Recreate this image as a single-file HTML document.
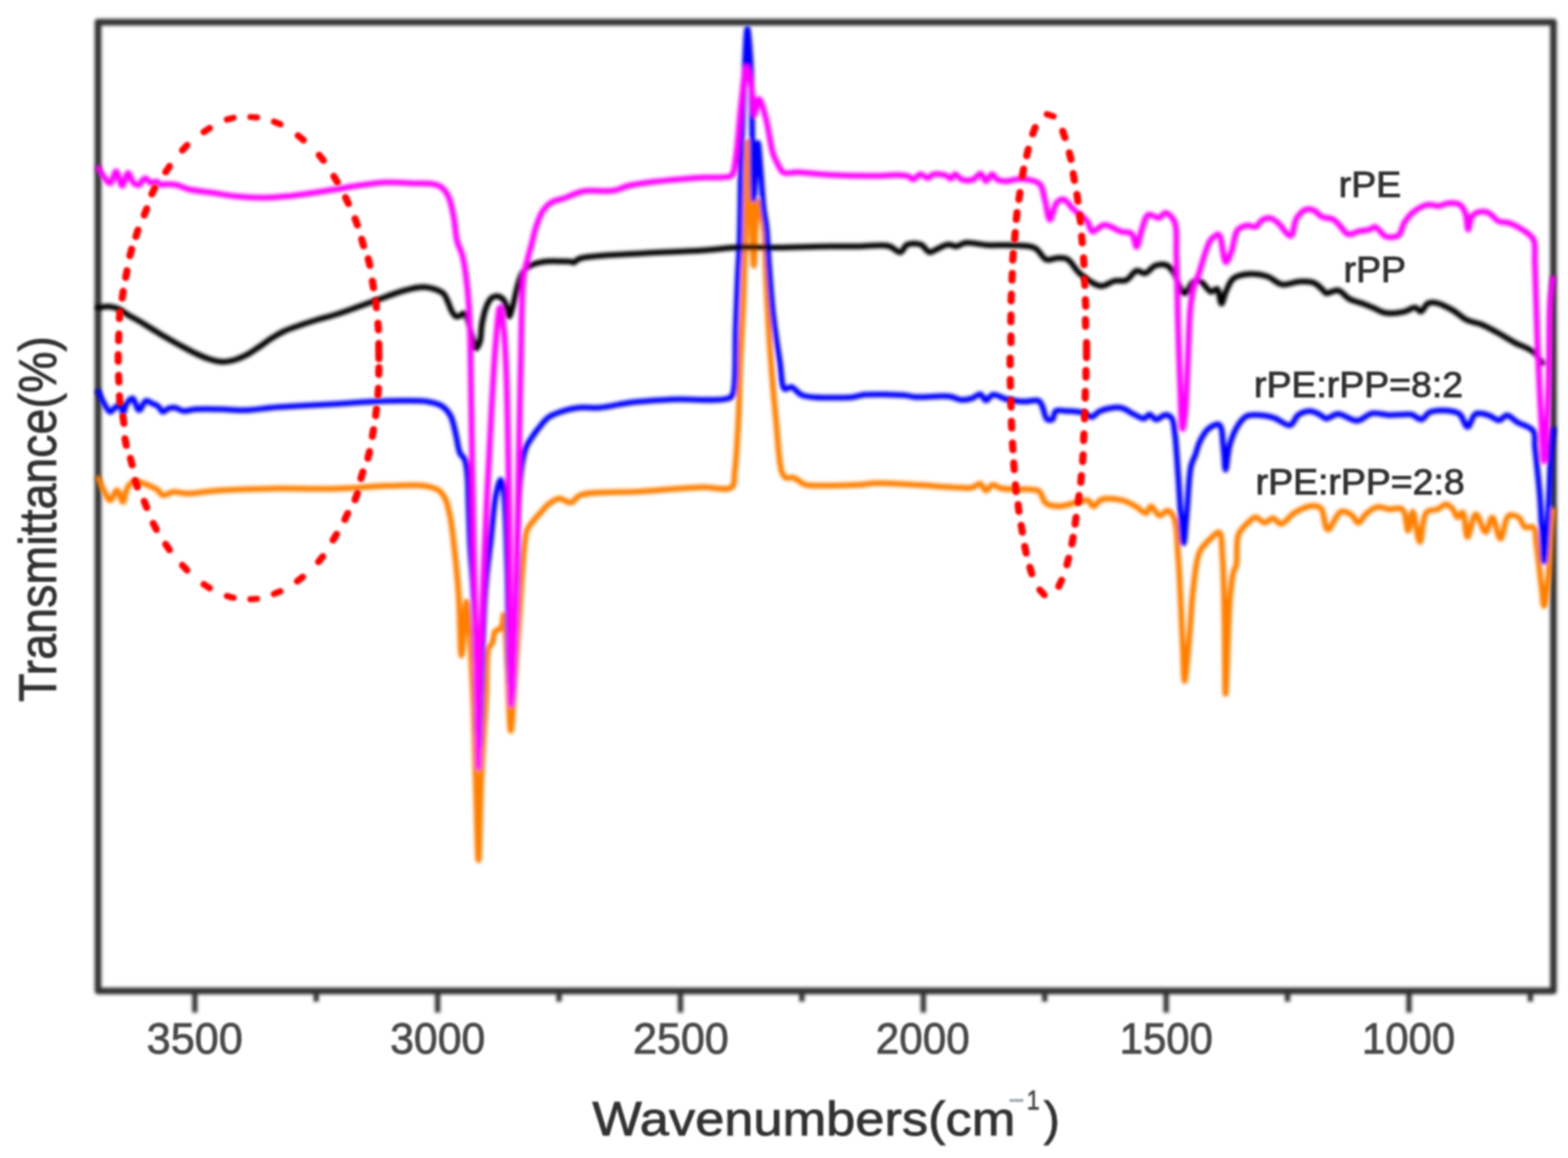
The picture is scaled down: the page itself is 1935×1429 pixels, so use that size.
<!DOCTYPE html>
<html><head><meta charset="utf-8"><title>FTIR spectra of rPE, rPP and blends</title>
<style>
html,body{margin:0;padding:0;background:#fff;}
body{width:1935px;height:1429px;overflow:hidden;}
svg{display:block;}
text{font-family:"Liberation Sans",Arial,sans-serif;}
</style></head>
<body>
<svg width="1935" height="1429" viewBox="0 0 1935 1429">
<defs>
<filter id="bt" x="0" y="0" width="1935" height="1429" filterUnits="userSpaceOnUse"><feGaussianBlur stdDeviation="1.25"/></filter>
<filter id="bc" x="0" y="0" width="1935" height="1429" filterUnits="userSpaceOnUse"><feGaussianBlur stdDeviation="1.9"/></filter>
<filter id="bf" x="0" y="0" width="1935" height="1429" filterUnits="userSpaceOnUse"><feGaussianBlur stdDeviation="1.9"/></filter>
<filter id="be" x="0" y="0" width="1935" height="1429" filterUnits="userSpaceOnUse"><feGaussianBlur stdDeviation="1.6"/></filter>
</defs>
<rect width="1935" height="1429" fill="#fff"/>
<g filter="url(#bf)">
<rect x="121" y="27.4" width="1796" height="1195.3999999999999" stroke="#333" stroke-width="8.2" fill="none" stroke-linejoin="round"/>
<g stroke="#333" stroke-width="6.5" stroke-linecap="butt">
<line x1="240.4" y1="1222.8" x2="240.4" y2="1249.5"/><line x1="540.1" y1="1222.8" x2="540.1" y2="1249.5"/><line x1="839.7" y1="1222.8" x2="839.7" y2="1249.5"/><line x1="1139.4" y1="1222.8" x2="1139.4" y2="1249.5"/><line x1="1439.1" y1="1222.8" x2="1439.1" y2="1249.5"/><line x1="1738.8" y1="1222.8" x2="1738.8" y2="1249.5"/><line x1="390.2" y1="1222.8" x2="390.2" y2="1236"/><line x1="689.9" y1="1222.8" x2="689.9" y2="1236"/><line x1="989.6" y1="1222.8" x2="989.6" y2="1236"/><line x1="1289.2" y1="1222.8" x2="1289.2" y2="1236"/><line x1="1588.9" y1="1222.8" x2="1588.9" y2="1236"/><line x1="1888.6" y1="1222.8" x2="1888.6" y2="1236"/>
</g>
</g>
<g filter="url(#bc)" fill="none" stroke-width="7.0" stroke-linejoin="round" stroke-linecap="round">
<path stroke="#ff7f00" d="M121.3,590.2 C122.4,592.7 125.5,600.4 128.0,605.0 C130.4,609.4 133.3,617.5 136.0,617.5 C138.7,617.5 141.8,604.7 144.4,604.9 C147.1,605.1 149.7,619.8 151.7,619.6 C153.6,619.4 154.2,609.1 156.0,605.0 C157.5,601.7 158.8,598.3 161.2,596.5 C163.4,594.9 166.5,594.3 169.6,594.4 C173.4,594.5 178.1,596.9 182.2,598.6 C186.5,600.4 191.5,602.5 194.8,604.9 C197.4,606.8 198.4,610.6 201.1,611.2 C204.4,612.0 209.1,607.5 213.7,607.0 C218.8,606.5 224.0,609.0 230.5,609.1 C239.4,609.2 250.7,606.8 262.0,605.9 C275.0,604.9 290.0,604.3 304.0,603.8 C318.0,603.3 330.3,603.0 346.0,602.8 C366.2,602.6 392.5,603.6 415.0,603.0 C436.5,602.5 458.6,600.1 478.0,599.6 C494.6,599.2 512.7,597.8 524.2,599.6 C531.3,600.7 536.7,601.9 541.0,604.9 C544.8,607.5 547.1,610.9 549.4,615.4 C552.4,621.4 554.0,630.1 555.7,638.5 C557.6,648.1 558.5,657.7 559.9,670.0 C561.9,687.2 564.3,710.2 565.9,732.0 C567.6,756.3 567.8,809.0 569.5,809.0 C571.1,809.0 574.0,742.0 575.7,742.0 C576.6,742.0 577.2,751.6 578.0,760.0 C579.8,779.8 582.3,826.2 583.8,859.5 C585.3,892.9 585.9,926.4 587.0,960.0 C588.1,993.8 589.3,1061.6 590.5,1061.6 C591.7,1061.6 592.4,993.8 594.0,960.0 C595.5,926.4 598.2,888.6 599.8,859.5 C601.0,837.1 599.7,809.9 603.0,800.0 C604.2,796.3 606.4,795.9 607.7,793.0 C609.3,789.3 608.7,782.2 611.0,779.2 C612.8,776.9 616.7,777.4 618.4,775.0 C620.9,771.6 620.6,758.5 621.5,758.5 C622.9,758.6 623.8,783.1 625.0,800.0 C626.8,826.5 628.4,902.0 630.3,902.0 C631.5,902.0 632.8,875.3 634.0,860.0 C635.4,841.8 636.7,818.0 638.0,800.0 C639.0,785.3 640.0,774.0 641.0,760.0 C642.1,744.5 642.9,726.1 644.0,711.0 C644.9,698.1 645.8,685.2 647.0,675.0 C647.9,667.3 648.0,660.4 650.0,655.0 C651.5,650.9 653.9,648.3 656.4,645.0 C659.1,641.3 662.5,637.7 665.9,634.0 C669.5,630.0 673.2,624.9 677.4,621.7 C681.3,618.8 685.5,615.6 690.0,615.2 C694.7,614.8 700.8,621.1 705.1,620.2 C709.1,619.4 709.7,613.7 715.2,611.4 C728.3,606.0 765.6,608.1 790.8,606.4 C816.0,604.7 845.7,602.0 866.4,601.3 C880.8,600.8 896.9,606.3 903.0,601.3 C907.4,597.6 905.6,590.6 906.7,582.4 C908.7,567.4 910.1,540.0 911.2,518.0 C912.4,494.8 912.6,470.5 913.6,446.7 C914.6,422.9 916.1,400.1 917.1,375.2 C918.2,348.0 919.1,320.5 920.0,290.0 C921.0,254.5 921.3,175.0 922.5,175.0 C923.4,175.0 924.8,216.7 926.0,240.0 C927.4,267.1 929.0,328.0 930.2,328.0 C931.1,328.0 931.8,294.4 932.5,280.0 C933.1,268.3 932.9,248.2 934.3,248.0 C935.2,247.9 936.8,255.5 938.0,260.0 C939.5,265.8 941.0,271.2 942.1,280.0 C944.2,296.4 944.4,326.7 945.7,351.4 C947.1,378.1 948.5,407.0 950.5,434.8 C952.5,462.6 955.0,492.1 957.6,518.0 C959.9,540.9 961.0,571.9 964.8,582.4 C966.2,586.2 967.2,588.3 969.5,589.5 C971.9,590.8 975.6,588.6 979.0,589.5 C983.4,590.7 989.1,596.6 993.3,598.0 C996.2,599.0 997.3,598.8 1001.2,599.0 C1011.7,599.6 1045.3,599.1 1060.0,598.3 C1068.8,597.8 1072.5,596.4 1081.0,596.2 C1093.9,595.8 1113.1,597.4 1130.0,598.3 C1148.0,599.3 1173.6,601.5 1186.0,601.8 C1192.2,602.0 1195.9,602.7 1200.0,601.7 C1203.6,600.8 1206.9,596.3 1209.7,596.9 C1212.5,597.5 1214.1,605.1 1216.7,605.3 C1219.3,605.5 1222.0,598.7 1225.1,598.3 C1228.1,597.9 1231.1,601.6 1234.9,602.5 C1239.8,603.7 1245.9,603.3 1252.5,603.8 C1261.0,604.4 1275.6,601.9 1281.9,605.9 C1286.7,608.9 1286.1,617.4 1290.3,620.6 C1294.5,623.8 1301.0,624.7 1307.1,624.8 C1314.2,624.9 1323.6,620.8 1330.2,619.5 C1335.0,618.5 1339.6,616.2 1342.8,617.4 C1345.6,618.4 1346.6,624.6 1349.1,624.8 C1352.0,625.1 1355.0,617.9 1359.6,616.4 C1365.9,614.3 1377.4,615.7 1384.8,617.4 C1391.1,618.9 1396.4,622.0 1401.5,624.8 C1406.1,627.3 1410.9,633.8 1414.2,633.2 C1416.9,632.7 1418.0,624.9 1420.4,624.8 C1423.4,624.6 1427.3,635.8 1431.0,636.3 C1434.1,636.7 1437.7,630.0 1440.6,630.3 C1443.5,630.6 1446.5,634.0 1448.6,638.3 C1452.9,647.2 1452.4,667.1 1453.9,686.2 C1456.2,714.7 1457.8,764.1 1459.3,792.6 C1460.3,811.7 1460.6,840.4 1461.9,840.4 C1463.2,840.4 1465.5,809.9 1467.2,792.6 C1469.2,772.2 1470.0,746.0 1472.6,726.0 C1474.7,709.5 1475.5,691.7 1480.5,680.9 C1483.9,673.6 1489.4,669.1 1493.8,664.9 C1497.4,661.5 1502.0,655.9 1504.5,656.9 C1508.2,658.5 1507.5,674.0 1508.5,686.2 C1510.2,706.2 1510.5,738.6 1511.1,766.0 C1511.8,795.2 1511.4,856.4 1512.4,856.4 C1513.5,856.4 1515.5,766.2 1517.8,739.4 C1519.0,725.4 1519.9,715.1 1521.8,707.4 C1522.9,702.8 1524.7,701.5 1525.7,696.8 C1527.5,688.3 1524.6,669.0 1528.4,659.6 C1531.2,652.6 1537.6,647.3 1541.7,643.6 C1544.5,641.1 1546.8,638.3 1549.7,638.3 C1553.0,638.3 1556.7,644.8 1560.3,645.0 C1563.8,645.2 1567.6,639.4 1571.0,639.6 C1574.5,639.8 1577.3,646.8 1581.0,646.6 C1585.9,646.4 1591.6,636.3 1597.8,632.6 C1604.1,628.8 1612.8,624.6 1618.8,624.2 C1623.1,623.9 1627.0,624.2 1630.0,627.0 C1634.6,631.3 1634.2,652.8 1638.4,653.5 C1642.6,654.2 1649.3,633.0 1655.2,631.2 C1659.3,629.9 1664.3,633.0 1667.8,635.4 C1671.3,637.7 1673.3,645.2 1676.2,645.2 C1679.3,645.2 1682.2,637.2 1686.0,634.0 C1690.0,630.6 1695.2,626.4 1700.0,625.6 C1704.5,624.8 1709.1,627.9 1714.0,628.4 C1719.3,628.9 1726.8,625.4 1730.7,628.4 C1735.7,632.3 1735.5,655.0 1737.7,655.0 C1739.7,655.0 1741.2,631.2 1743.3,631.2 C1745.9,631.2 1749.3,668.9 1752.2,668.9 C1755.0,668.9 1754.6,638.3 1760.3,632.3 C1763.9,628.5 1770.3,630.1 1774.5,628.3 C1778.3,626.7 1781.5,622.0 1784.6,622.2 C1787.5,622.3 1790.5,625.7 1792.8,628.3 C1795.3,631.1 1796.6,638.1 1798.8,638.4 C1800.7,638.6 1803.3,631.8 1805.0,632.3 C1808.2,633.3 1808.3,662.6 1811.0,662.8 C1813.7,663.0 1817.3,634.7 1821.2,634.4 C1824.8,634.1 1829.8,656.8 1833.3,656.7 C1836.4,656.6 1838.7,638.3 1841.5,638.4 C1844.8,638.5 1848.3,664.8 1851.6,664.8 C1855.0,664.8 1856.6,639.5 1861.8,636.4 C1865.1,634.4 1870.7,636.3 1874.0,638.4 C1877.6,640.7 1878.6,648.7 1882.0,650.6 C1884.9,652.1 1889.8,648.6 1892.2,650.6 C1895.8,653.6 1894.9,663.9 1896.2,672.9 C1898.2,686.4 1900.6,709.9 1902.3,723.7 C1903.5,733.3 1904.2,748.0 1905.4,748.0 C1906.8,748.0 1909.1,726.7 1910.5,713.5 C1912.4,696.1 1913.1,668.0 1914.5,652.6 C1915.3,643.2 1916.6,633.8 1917.0,630.0"/>
<path stroke="#0000ff" d="M121.3,483.1 C122.4,485.4 125.5,492.7 128.0,497.0 C130.4,501.1 133.4,508.0 136.0,508.3 C138.0,508.5 139.8,504.4 142.0,503.0 C144.1,501.6 147.0,499.2 148.6,499.9 C150.5,500.7 150.4,509.2 151.7,509.3 C153.2,509.4 154.7,500.1 157.0,497.0 C158.8,494.5 161.3,491.2 163.3,491.5 C166.2,492.0 168.8,506.1 171.7,506.2 C174.4,506.3 176.9,495.5 180.0,494.6 C182.4,493.9 185.4,496.9 188.0,498.0 C190.4,499.0 192.7,499.5 194.8,501.0 C197.2,502.7 198.8,507.9 201.1,508.3 C203.2,508.6 205.5,504.9 208.0,504.0 C210.4,503.1 213.1,502.7 215.8,503.0 C219.1,503.4 222.4,506.7 226.3,507.2 C230.7,507.7 235.2,505.5 241.0,505.1 C249.5,504.5 262.0,504.9 272.5,505.1 C283.0,505.3 293.5,506.5 304.0,506.2 C314.5,505.9 325.0,503.9 335.5,503.0 C346.0,502.1 355.4,501.7 367.0,501.0 C381.3,500.2 399.5,499.4 415.0,498.5 C429.5,497.6 443.0,496.4 457.0,495.7 C471.0,495.1 486.2,494.5 499.0,494.6 C509.7,494.7 520.0,494.3 528.4,495.7 C534.9,496.8 540.6,498.0 545.2,501.0 C549.6,503.8 553.0,507.7 555.7,512.5 C558.9,518.2 560.2,526.5 562.0,533.5 C563.7,540.5 565.0,549.9 566.2,554.5 C566.8,556.8 566.9,557.8 567.8,559.6 C569.0,561.9 572.0,563.6 573.4,566.7 C575.4,571.2 575.9,577.8 576.7,585.2 C577.9,596.3 577.8,612.6 578.4,627.2 C579.1,643.2 579.6,662.5 580.5,677.6 C581.2,689.9 582.2,698.8 583.0,711.0 C583.9,725.8 584.8,742.8 585.5,760.0 C586.3,779.0 586.9,798.0 587.5,820.0 C588.2,847.0 588.4,892.6 589.5,910.0 C589.9,917.1 590.5,925.0 591.0,925.0 C592.0,925.0 592.6,884.7 593.5,860.0 C594.7,827.1 596.2,771.9 597.7,745.0 C598.5,730.4 599.1,723.1 600.3,711.3 C601.6,698.0 603.5,684.4 605.3,669.2 C607.4,651.2 609.0,624.4 612.0,610.4 C613.7,602.4 616.2,592.0 617.9,592.0 C619.3,592.0 620.5,598.6 621.5,605.0 C624.2,622.0 624.7,664.7 626.0,700.0 C627.6,744.3 626.8,834.6 630.0,850.0 C630.6,852.9 631.4,855.1 632.0,855.0 C633.8,854.7 633.7,816.9 634.5,800.0 C635.2,785.6 635.9,775.2 636.5,760.0 C637.3,739.9 637.9,713.3 638.5,690.0 C639.1,666.7 639.0,640.1 640.0,620.0 C640.7,604.8 641.7,590.5 643.0,580.0 C643.9,573.1 644.7,568.3 646.0,563.0 C647.1,558.3 648.2,554.0 650.0,550.0 C651.7,546.3 654.0,543.3 656.4,539.8 C659.0,536.0 661.7,532.0 665.0,528.0 C668.6,523.6 672.2,518.1 677.4,514.6 C683.1,510.7 691.7,508.2 698.4,506.2 C704.2,504.5 708.8,503.6 715.0,503.0 C722.5,502.3 731.1,503.8 740.4,503.0 C751.8,502.1 764.7,498.3 778.2,496.7 C793.8,494.8 810.2,494.0 828.6,493.0 C850.7,491.8 892.7,496.6 901.7,490.4 C905.0,488.2 904.5,486.1 905.5,481.6 C908.3,468.9 907.1,430.3 908.0,406.0 C908.8,383.3 909.6,359.3 910.5,340.0 C911.2,325.0 912.0,316.5 912.6,300.0 C913.6,273.0 913.6,229.2 914.7,193.6 C915.8,157.6 917.5,114.2 919.0,85.0 C920.0,65.2 921.0,35.2 922.3,35.2 C923.6,35.2 925.7,65.7 926.7,85.0 C928.1,111.6 927.9,151.2 928.5,180.0 C929.0,203.9 929.1,245.7 930.0,245.7 C930.7,245.7 932.0,212.8 933.0,200.0 C933.7,190.8 934.4,176.2 935.3,176.2 C936.4,176.2 937.8,201.7 939.0,215.0 C940.2,229.1 941.1,246.7 942.5,258.7 C943.5,267.1 944.9,271.5 945.8,280.0 C947.2,292.7 947.7,310.9 949.0,327.6 C950.4,346.3 951.8,367.3 954.0,387.1 C956.2,407.0 959.7,429.7 962.4,446.7 C964.4,459.4 964.0,477.3 968.3,480.0 C970.5,481.4 973.8,477.0 976.7,477.6 C980.5,478.4 984.3,485.1 988.6,487.1 C992.5,489.0 995.5,489.3 1001.2,489.9 C1012.6,491.1 1041.2,491.1 1053.0,489.9 C1059.2,489.3 1060.9,487.7 1067.0,487.1 C1078.3,486.1 1104.6,486.9 1116.0,487.8 C1122.1,488.3 1124.1,489.5 1130.0,489.9 C1140.2,490.6 1161.8,487.8 1172.0,489.2 C1178.0,490.0 1181.3,493.0 1186.0,493.4 C1190.6,493.7 1195.9,492.7 1200.0,491.4 C1203.6,490.2 1206.9,485.9 1209.7,486.4 C1212.4,486.9 1214.2,493.9 1216.7,494.1 C1219.3,494.3 1221.6,487.8 1225.1,487.1 C1229.6,486.2 1236.0,491.1 1242.0,492.5 C1248.6,494.0 1256.2,495.3 1263.0,495.6 C1269.5,495.9 1278.1,492.7 1281.9,494.6 C1284.3,495.8 1284.7,498.2 1286.1,500.9 C1288.2,505.1 1289.4,515.6 1292.4,517.7 C1294.2,518.9 1297.1,518.8 1298.7,517.7 C1300.9,516.2 1300.2,509.0 1302.9,507.2 C1305.7,505.3 1310.8,507.0 1315.5,507.2 C1321.6,507.5 1330.8,507.7 1336.5,509.3 C1340.7,510.5 1343.6,514.8 1347.0,514.5 C1350.6,514.2 1353.0,509.0 1357.5,507.2 C1363.9,504.6 1375.3,501.9 1382.7,503.0 C1389.0,504.0 1394.3,509.0 1399.5,511.4 C1403.9,513.4 1408.6,517.1 1412.0,516.6 C1414.6,516.2 1416.1,511.4 1418.4,511.4 C1421.0,511.4 1423.6,517.4 1426.7,517.7 C1430.1,518.0 1434.6,512.0 1438.0,512.0 C1440.9,512.0 1444.1,513.5 1446.0,516.0 C1448.8,519.7 1448.7,526.7 1449.8,534.5 C1451.6,547.5 1452.5,567.5 1454.0,587.0 C1455.9,611.6 1458.4,670.5 1460.5,670.5 C1461.9,670.5 1463.2,646.9 1464.6,633.0 C1466.3,615.7 1466.9,587.0 1469.9,574.5 C1471.4,568.4 1473.5,565.9 1475.2,561.2 C1477.0,556.1 1478.0,550.4 1480.5,545.2 C1483.2,539.7 1486.8,532.9 1491.2,529.3 C1495.0,526.2 1501.4,522.3 1504.5,524.0 C1509.0,526.5 1508.5,543.7 1509.8,553.2 C1511.1,562.2 1511.2,579.8 1512.4,579.8 C1513.8,579.8 1514.9,557.6 1517.8,547.9 C1520.4,539.2 1524.2,530.1 1528.4,524.0 C1531.6,519.4 1534.2,515.3 1539.0,513.3 C1545.0,510.8 1556.6,512.4 1563.0,513.3 C1567.4,513.9 1569.9,514.9 1574.0,516.4 C1579.4,518.4 1587.4,526.0 1592.2,524.8 C1596.5,523.8 1597.9,515.1 1602.0,512.2 C1605.9,509.4 1611.6,507.4 1616.0,507.3 C1619.9,507.2 1623.7,509.3 1627.2,510.8 C1630.7,512.3 1633.4,516.1 1637.0,516.4 C1641.2,516.7 1645.7,510.9 1651.0,510.8 C1657.9,510.7 1667.5,519.7 1674.8,519.2 C1681.4,518.8 1686.5,511.3 1693.0,510.1 C1699.6,508.9 1707.3,512.0 1714.0,512.2 C1720.3,512.4 1727.0,511.6 1732.1,511.5 C1735.9,511.4 1738.6,510.7 1742.0,511.5 C1746.0,512.4 1750.5,518.2 1754.2,517.7 C1757.9,517.2 1760.1,510.5 1764.4,508.6 C1769.3,506.4 1776.6,506.2 1782.6,506.5 C1788.7,506.8 1796.2,507.2 1800.9,510.6 C1805.7,514.0 1807.6,526.8 1811.0,526.8 C1814.4,526.8 1816.5,512.8 1821.2,510.6 C1825.5,508.6 1832.5,511.1 1837.4,512.6 C1841.9,514.0 1845.8,518.9 1849.6,518.7 C1853.2,518.6 1856.2,512.5 1859.7,512.6 C1863.6,512.7 1867.3,517.9 1871.9,520.7 C1877.7,524.2 1888.6,526.4 1892.2,531.9 C1895.5,536.9 1893.4,543.0 1894.2,551.2 C1895.7,565.8 1898.5,590.3 1900.3,612.0 C1902.3,637.1 1903.6,693.2 1905.4,693.2 C1907.0,693.2 1909.1,654.1 1910.5,632.3 C1912.2,607.2 1913.0,569.5 1914.5,551.2 C1915.3,541.8 1916.6,533.5 1917.0,530.0"/>
<path stroke="#000000" d="M121.3,379.5 C123.7,379.3 131.6,378.0 136.0,378.4 C139.7,378.7 142.7,379.6 146.0,381.0 C149.7,382.6 152.7,385.3 157.0,387.9 C162.9,391.4 171.0,395.8 178.0,400.0 C185.0,404.2 192.0,408.8 199.0,413.0 C206.0,417.1 213.0,421.1 220.0,425.0 C227.0,428.8 234.3,432.9 241.0,436.0 C246.9,438.8 252.3,441.2 258.0,443.0 C263.5,444.7 269.2,446.5 274.6,446.6 C279.8,446.7 285.1,445.4 290.0,444.0 C294.9,442.6 299.3,440.7 304.0,438.2 C309.3,435.5 314.8,431.5 320.0,428.0 C325.2,424.5 330.3,420.4 335.4,417.2 C340.3,414.1 344.9,411.4 350.0,409.0 C355.4,406.5 360.9,404.7 367.0,402.5 C374.1,400.0 382.1,397.4 390.0,395.0 C398.1,392.5 405.6,391.0 415.0,388.0 C427.3,384.1 443.0,378.1 457.0,373.2 C471.0,368.3 487.0,361.7 499.0,358.5 C507.7,356.2 514.7,354.2 522.0,354.3 C528.6,354.4 536.3,356.6 541.0,358.5 C544.0,359.8 546.1,360.9 548.0,363.0 C550.2,365.5 551.4,369.5 553.0,373.0 C554.7,376.8 556.1,381.9 558.0,385.0 C559.4,387.3 560.8,389.8 562.5,390.5 C563.9,391.1 565.5,390.6 567.0,390.0 C568.7,389.4 570.5,386.3 572.0,386.5 C573.6,386.8 574.8,389.7 576.0,392.0 C577.7,395.3 578.7,400.5 580.0,405.0 C581.4,409.8 582.6,415.5 584.0,420.0 C585.1,423.7 586.0,429.8 587.4,430.0 C588.7,430.1 590.9,425.7 592.1,422.3 C594.0,416.8 593.5,406.5 594.9,399.0 C596.3,391.7 598.0,383.4 600.5,377.7 C602.3,373.5 604.4,369.3 607.0,367.4 C608.9,366.0 611.3,365.4 613.5,365.6 C615.9,365.8 618.9,367.1 620.9,369.3 C623.6,372.2 625.2,379.3 626.5,383.3 C627.4,386.1 627.6,390.7 628.4,390.7 C629.4,390.7 630.9,384.6 632.1,380.5 C633.9,374.4 636.1,363.4 637.7,357.2 C638.8,353.1 639.3,350.4 640.5,347.0 C641.7,343.4 643.1,338.8 645.0,336.0 C646.5,333.8 648.1,332.4 650.2,330.8 C652.6,329.0 655.2,327.1 658.6,325.8 C663.1,324.1 670.0,322.9 675.4,322.4 C680.4,321.9 685.1,322.4 690.0,322.5 C694.9,322.6 701.7,322.1 704.7,322.8 C706.1,323.1 706.4,324.2 707.6,324.1 C709.6,323.9 711.1,320.5 715.2,319.1 C727.1,315.0 765.6,314.5 790.8,312.8 C816.0,311.1 844.7,310.5 866.4,309.0 C882.9,307.9 898.0,305.8 910.0,305.2 C918.4,304.8 923.8,305.0 931.4,305.0 C940.2,305.0 948.6,305.5 960.0,305.5 C976.9,305.4 1004.8,304.2 1023.0,304.0 C1037.0,303.8 1047.7,304.1 1060.0,304.0 C1072.2,303.9 1087.3,301.3 1096.5,303.5 C1102.7,305.0 1107.2,311.9 1111.2,311.2 C1114.7,310.6 1115.8,303.5 1119.6,301.8 C1123.9,299.9 1131.7,300.0 1136.4,301.8 C1140.7,303.4 1143.4,310.6 1146.9,311.2 C1149.7,311.7 1152.1,309.3 1155.3,308.0 C1159.5,306.3 1165.5,302.3 1170.0,301.8 C1173.7,301.4 1177.0,304.2 1180.4,303.9 C1184.0,303.6 1186.5,300.3 1191.0,299.7 C1198.2,298.7 1211.1,302.2 1220.0,302.6 C1227.6,303.0 1233.1,302.2 1241.0,302.6 C1251.3,303.1 1267.9,301.7 1276.7,305.8 C1283.4,308.9 1286.2,318.8 1291.4,320.5 C1295.4,321.8 1299.8,318.6 1304.0,318.4 C1308.2,318.2 1312.5,317.4 1316.6,319.4 C1322.4,322.3 1326.7,332.8 1333.4,338.3 C1340.5,344.2 1350.8,352.3 1358.5,353.0 C1364.5,353.5 1369.8,347.9 1375.3,346.7 C1380.3,345.6 1385.6,347.6 1390.0,345.7 C1394.8,343.7 1398.3,335.1 1402.6,334.1 C1406.0,333.3 1409.6,337.9 1413.1,337.3 C1417.3,336.6 1421.1,329.4 1425.7,327.8 C1430.1,326.3 1436.3,325.9 1440.0,327.4 C1443.2,328.6 1444.7,331.2 1447.3,334.6 C1451.8,340.6 1457.0,361.6 1461.8,362.0 C1465.5,362.3 1468.8,349.4 1472.8,347.4 C1475.6,346.0 1478.8,346.2 1481.8,347.4 C1486.1,349.2 1490.7,359.5 1494.6,360.1 C1497.2,360.5 1500.0,355.7 1501.9,356.5 C1504.9,357.8 1505.4,374.6 1507.3,374.7 C1509.0,374.8 1510.5,365.0 1512.8,360.1 C1515.3,354.7 1517.4,347.3 1521.9,343.7 C1526.4,340.1 1533.5,338.9 1540.0,338.3 C1547.3,337.7 1556.5,338.7 1563.7,341.0 C1570.4,343.1 1575.3,349.9 1581.9,351.0 C1588.7,352.2 1596.8,347.6 1603.8,347.4 C1610.1,347.2 1617.0,347.1 1622.0,349.2 C1626.4,351.1 1630.3,355.9 1632.9,358.3 C1634.5,359.7 1634.7,361.4 1636.5,361.9 C1639.6,362.8 1646.5,357.4 1651.1,358.3 C1656.2,359.3 1660.4,366.5 1665.6,369.2 C1670.7,371.9 1676.9,372.8 1682.0,374.7 C1686.6,376.4 1690.5,378.2 1695.0,380.0 C1700.0,382.0 1704.8,385.4 1710.6,386.3 C1717.3,387.3 1726.5,386.0 1732.9,384.6 C1738.1,383.4 1742.9,378.9 1746.6,379.4 C1749.4,379.8 1751.1,384.9 1753.4,384.6 C1756.3,384.3 1758.7,376.0 1762.0,374.3 C1764.6,372.9 1767.1,372.9 1770.6,373.4 C1776.4,374.3 1786.1,379.1 1792.9,382.9 C1799.2,386.4 1804.0,392.0 1810.0,394.9 C1815.5,397.6 1821.3,397.7 1827.2,400.0 C1833.8,402.6 1840.9,406.6 1847.7,410.3 C1854.6,414.0 1861.1,418.4 1868.3,422.3 C1875.9,426.4 1886.2,429.4 1892.3,434.3 C1897.2,438.3 1901.6,445.7 1903.4,448.0"/>
<path stroke="#ff00ff" d="M121.3,207.3 C122.4,209.1 125.5,214.8 128.0,218.0 C130.4,221.1 133.6,226.6 136.0,226.2 C138.8,225.8 140.9,211.4 143.3,211.5 C145.9,211.6 148.2,229.2 150.7,229.3 C153.1,229.3 155.5,213.7 158.0,213.6 C160.3,213.5 162.2,223.7 165.0,226.0 C167.0,227.7 169.9,228.9 171.7,228.3 C173.6,227.7 174.4,223.4 176.0,222.0 C177.2,220.9 178.6,219.8 180.0,220.0 C181.9,220.3 183.8,225.4 186.0,226.0 C188.0,226.5 190.6,223.7 192.7,224.0 C194.9,224.3 196.8,227.5 199.0,228.0 C201.0,228.5 202.8,227.2 205.3,227.2 C208.8,227.1 213.6,227.4 217.9,228.3 C222.7,229.3 226.8,232.1 232.6,233.5 C240.6,235.5 252.4,236.3 262.0,237.7 C271.3,239.1 279.6,241.0 289.3,242.0 C300.4,243.2 313.5,244.0 325.0,244.0 C335.8,244.0 345.9,243.0 356.4,242.0 C366.9,240.9 377.9,239.2 388.0,237.7 C397.4,236.3 405.7,235.0 415.0,233.5 C425.1,231.9 436.0,229.7 446.5,228.3 C457.0,226.9 467.5,225.4 478.0,225.1 C488.5,224.8 499.6,225.8 509.5,226.2 C518.4,226.5 528.2,225.8 534.7,227.2 C539.1,228.1 542.2,229.0 545.2,231.4 C548.6,234.1 551.3,238.1 553.6,243.0 C556.7,249.6 558.2,259.4 559.9,268.2 C561.7,277.6 562.0,289.3 564.1,297.6 C565.8,304.1 568.7,308.3 570.4,314.4 C572.3,321.4 573.4,328.6 574.6,337.5 C576.3,349.4 577.7,361.9 578.8,379.5 C580.6,409.3 580.8,461.7 581.5,500.0 C582.2,534.9 582.4,565.1 583.0,600.0 C583.7,638.2 584.7,681.8 585.5,720.0 C586.2,754.9 586.8,788.5 587.5,820.0 C588.1,848.2 588.9,876.9 589.4,900.0 C589.8,917.7 590.2,947.0 590.5,947.0 C590.9,947.0 590.6,886.2 591.4,850.0 C592.5,803.9 594.9,748.2 597.3,693.0 C600.0,631.3 604.1,547.3 607.0,497.0 C608.8,465.4 610.0,441.6 612.0,420.0 C613.5,404.2 615.1,379.3 616.9,379.2 C618.2,379.2 619.9,391.3 621.0,400.0 C622.9,414.4 623.7,432.7 624.7,457.6 C626.6,503.5 627.6,586.8 628.6,653.7 C629.6,723.9 628.7,869.3 630.6,869.4 C631.6,869.4 633.4,834.9 634.5,810.6 C636.3,770.9 637.2,708.9 638.4,653.7 C639.8,592.0 640.9,514.7 642.4,457.6 C643.6,413.4 643.3,362.8 646.3,340.0 C647.6,330.5 649.3,326.7 651.0,320.0 C652.7,313.3 654.6,306.7 656.4,300.0 C658.1,293.3 659.3,286.5 661.5,280.0 C663.7,273.4 666.1,265.8 669.6,260.6 C672.6,256.2 676.0,252.6 680.3,249.9 C684.8,247.1 690.5,246.5 696.4,244.5 C703.7,242.0 712.2,237.3 720.6,235.8 C729.2,234.3 740.1,236.2 747.5,235.8 C752.8,235.5 756.6,235.4 761.0,234.4 C765.5,233.4 769.1,230.9 774.4,229.5 C781.7,227.6 791.3,226.3 801.2,225.0 C813.3,223.4 829.5,222.0 841.6,221.0 C851.4,220.1 859.1,219.5 868.4,219.0 C878.5,218.5 894.6,219.8 900.0,218.0 C902.1,217.3 902.8,217.0 903.9,215.3 C906.3,211.7 906.8,202.8 908.2,193.6 C910.6,177.8 912.3,148.2 914.7,128.5 C916.7,112.0 918.7,83.1 921.2,83.0 C923.2,82.9 926.1,101.4 927.7,111.0 C929.4,120.9 929.3,141.4 931.0,141.5 C932.4,141.6 934.2,122.1 936.4,122.0 C938.8,121.9 942.5,136.6 945.1,145.9 C948.5,158.1 950.5,179.0 953.8,189.3 C955.7,195.3 957.7,198.9 960.0,203.0 C962.1,206.7 963.7,211.4 966.8,213.0 C969.7,214.6 975.1,213.3 977.7,213.1 C979.1,213.0 979.3,212.6 981.0,212.5 C987.1,212.2 1007.9,215.0 1023.0,215.7 C1040.5,216.6 1064.4,217.1 1080.0,217.0 C1090.9,216.9 1100.2,215.6 1107.9,216.0 C1113.4,216.3 1118.6,216.5 1121.9,217.9 C1124.0,218.8 1124.7,221.5 1126.5,221.6 C1129.0,221.7 1132.6,215.3 1135.8,215.1 C1138.8,214.9 1142.3,220.0 1145.1,219.8 C1147.5,219.6 1148.7,215.8 1151.6,215.1 C1155.7,214.0 1164.7,215.5 1168.4,217.0 C1170.6,217.9 1171.4,220.8 1173.0,220.7 C1174.8,220.6 1176.5,215.2 1178.6,215.1 C1181.1,214.9 1183.6,220.4 1187.0,221.6 C1190.9,222.9 1196.9,223.0 1200.9,221.6 C1204.6,220.3 1207.5,213.8 1210.2,214.2 C1212.8,214.6 1214.3,223.4 1216.7,223.5 C1219.0,223.6 1221.8,215.2 1224.3,215.1 C1226.5,215.1 1227.9,220.2 1230.7,221.6 C1233.9,223.2 1239.0,223.6 1242.8,223.5 C1246.1,223.4 1248.9,222.0 1252.1,221.6 C1255.3,221.1 1258.1,220.4 1262.0,220.8 C1267.7,221.4 1278.5,222.6 1283.0,227.0 C1287.3,231.2 1287.3,239.2 1289.3,246.0 C1291.6,253.7 1293.0,270.9 1295.6,271.1 C1298.0,271.3 1300.3,254.1 1304.0,250.1 C1306.4,247.5 1309.5,245.5 1312.4,246.0 C1316.4,246.7 1320.4,254.2 1325.0,258.5 C1330.1,263.3 1337.8,268.1 1341.7,273.2 C1344.8,277.3 1344.8,284.8 1348.0,285.8 C1351.5,286.9 1357.3,277.8 1362.7,277.4 C1369.0,277.0 1377.5,284.0 1383.7,285.8 C1388.4,287.1 1393.2,285.4 1396.3,288.0 C1399.9,291.0 1400.6,304.8 1402.6,304.7 C1404.8,304.6 1406.4,290.4 1408.9,283.7 C1411.3,277.2 1413.1,266.6 1417.3,264.8 C1420.6,263.3 1426.3,269.6 1429.9,269.0 C1433.1,268.5 1435.4,262.5 1438.3,262.7 C1441.9,262.9 1447.0,268.3 1449.5,273.8 C1453.5,282.7 1451.1,298.7 1451.7,315.0 C1452.6,338.6 1453.0,374.9 1453.8,401.7 C1454.5,424.9 1455.1,445.2 1456.0,466.7 C1456.9,487.8 1457.7,529.5 1459.3,529.6 C1460.2,529.6 1461.6,518.5 1462.5,510.0 C1464.1,494.7 1464.7,466.7 1465.8,445.0 C1466.9,423.3 1467.2,396.7 1469.0,380.0 C1470.1,369.3 1471.2,361.7 1473.3,354.0 C1475.0,347.6 1477.7,342.8 1479.8,336.7 C1482.1,329.9 1484.0,321.8 1486.3,315.0 C1488.4,308.9 1490.8,301.2 1492.9,297.7 C1494.0,295.9 1494.6,295.2 1496.0,294.0 C1497.9,292.3 1501.5,288.3 1503.7,289.2 C1508.1,290.9 1509.5,323.4 1512.8,323.7 C1515.1,323.9 1517.8,314.8 1520.0,309.2 C1522.8,302.0 1522.9,288.7 1527.3,283.7 C1530.5,280.1 1536.0,278.6 1540.0,278.2 C1543.3,277.8 1546.4,280.9 1549.2,280.0 C1552.5,279.0 1555.0,272.8 1558.3,271.0 C1561.1,269.5 1564.5,268.6 1567.4,269.1 C1570.5,269.6 1573.2,272.0 1576.5,274.6 C1581.4,278.4 1588.9,291.9 1592.8,291.0 C1596.7,290.1 1596.3,274.8 1600.1,269.1 C1603.4,264.3 1608.7,259.3 1612.9,258.2 C1616.0,257.4 1619.1,258.7 1622.0,260.0 C1625.2,261.5 1627.4,265.5 1631.0,267.3 C1635.1,269.4 1641.6,268.7 1645.6,271.0 C1649.3,273.1 1651.7,277.0 1654.7,280.0 C1657.7,283.0 1660.2,288.3 1663.8,289.2 C1667.4,290.1 1672.2,286.5 1676.5,285.5 C1680.9,284.5 1686.3,284.6 1690.0,283.4 C1692.8,282.5 1694.3,279.7 1696.9,280.0 C1700.8,280.5 1705.5,290.4 1710.6,292.0 C1715.3,293.5 1722.3,293.0 1726.0,290.3 C1729.9,287.5 1729.8,279.7 1732.9,274.9 C1736.1,269.9 1740.1,264.8 1744.9,261.1 C1749.8,257.3 1756.5,253.5 1762.0,252.6 C1766.7,251.8 1771.5,254.7 1775.7,254.3 C1779.4,253.9 1782.2,251.3 1786.0,250.9 C1790.6,250.4 1797.6,250.3 1801.4,252.6 C1804.8,254.7 1806.6,258.7 1808.3,262.9 C1810.5,268.4 1810.2,283.3 1811.7,283.4 C1813.1,283.5 1813.8,270.0 1816.9,266.3 C1819.4,263.3 1823.7,261.6 1827.2,261.1 C1830.5,260.6 1834.1,261.3 1837.4,262.9 C1841.5,264.8 1845.1,271.1 1849.4,273.1 C1853.2,274.8 1857.2,273.6 1861.4,274.9 C1866.7,276.6 1873.4,279.9 1878.6,283.4 C1883.7,286.8 1889.6,289.9 1892.3,295.4 C1895.7,302.2 1893.5,312.3 1894.0,322.9 C1894.7,337.4 1895.1,357.2 1895.7,374.3 C1896.3,391.4 1896.8,409.7 1897.4,425.7 C1898.0,439.7 1898.5,450.8 1899.2,465.0 C1900.0,481.8 1900.9,502.2 1902.0,520.0 C1903.0,536.9 1904.2,569.4 1905.4,569.4 C1906.6,569.4 1908.0,536.9 1909.0,520.0 C1910.0,502.2 1910.6,485.6 1911.2,465.0 C1912.0,438.5 1911.5,396.6 1912.9,374.3 C1913.7,361.3 1915.7,348.5 1916.3,343.4"/>
</g>
<g filter="url(#be)" fill="none" stroke="#ff0000" stroke-width="7.2" stroke-linecap="round">
<path d="M308.9,144.4L317.3,145.0" stroke-width="7.32"/>
<path d="M338.2,150.1L346.0,153.3" stroke-width="7.82"/>
<path d="M367.8,167.4L374.4,172.8" stroke-width="8.21"/>
<path d="M393.8,191.4L399.2,198.0" stroke-width="8.45"/>
<path d="M411.9,217.5L416.3,224.7" stroke-width="8.57"/>
<path d="M426.4,243.7L430.0,251.3" stroke-width="8.65"/>
<path d="M438.1,269.8L441.1,277.8" stroke-width="8.70"/>
<path d="M446.3,295.2L448.7,303.4" stroke-width="8.73"/>
<path d="M454.4,319.2L456.4,327.4" stroke-width="8.76"/>
<path d="M459.5,346.8L460.9,355.2" stroke-width="8.78"/>
<path d="M463.6,371.3L464.6,379.7" stroke-width="8.79"/>
<path d="M466.4,398.8L467.0,407.2" stroke-width="8.80"/>
<path d="M467.4,424.0L467.6,442.6" stroke-width="8.80"/>
<path d="M467.6,453.6L467.4,462.0" stroke-width="8.80"/>
<path d="M467.0,479.1L466.4,487.5" stroke-width="8.80"/>
<path d="M464.6,504.6L463.6,513.0" stroke-width="8.79"/>
<path d="M460.9,530.1L459.5,538.5" stroke-width="8.78"/>
<path d="M456.0,557.2L454.0,565.4" stroke-width="8.76"/>
<path d="M447.8,582.3L445.4,590.5" stroke-width="8.73"/>
<path d="M441.1,608.7L438.1,616.7" stroke-width="8.70"/>
<path d="M429.1,633.5L425.5,641.1" stroke-width="8.65"/>
<path d="M415.4,659.2L411.0,666.4" stroke-width="8.57"/>
<path d="M398.4,686.7L393.0,693.3" stroke-width="8.44"/>
<path d="M373.5,712.0L366.9,717.2" stroke-width="8.20"/>
<path d="M346.0,729.7L338.2,732.9" stroke-width="7.82"/>
<path d="M317.3,738.9L308.9,739.5" stroke-width="7.32"/>
<path d="M288.2,737.7L280.0,735.5" stroke-width="7.61"/>
<path d="M258.7,725.7L251.5,721.1" stroke-width="8.05"/>
<path d="M230.8,703.7L225.0,697.5" stroke-width="8.35"/>
<path d="M209.2,678.6L204.4,671.6" stroke-width="8.52"/>
<path d="M193.0,653.4L189.0,645.8" stroke-width="8.62"/>
<path d="M181.1,626.3L177.9,618.5" stroke-width="8.68"/>
<path d="M169.4,601.0L166.8,593.0" stroke-width="8.72"/>
<path d="M163.1,573.8L160.9,565.6" stroke-width="8.75"/>
<path d="M155.8,549.7L154.2,541.3" stroke-width="8.77"/>
<path d="M152.9,522.4L151.7,514.0" stroke-width="8.78"/>
<path d="M148.1,496.9L147.3,488.5" stroke-width="8.79"/>
<path d="M146.7,471.5L146.3,463.1" stroke-width="8.80"/>
<path d="M145.9,446.0L145.9,437.6" stroke-width="8.80"/>
<path d="M146.3,420.6L146.7,412.2" stroke-width="8.80"/>
<path d="M147.3,393.2L148.1,384.8" stroke-width="8.79"/>
<path d="M150.8,367.8L152.0,359.4" stroke-width="8.78"/>
<path d="M155.1,342.4L156.7,334.0" stroke-width="8.77"/>
<path d="M160.3,315.6L162.5,307.4" stroke-width="8.75"/>
<path d="M167.7,291.9L170.3,283.9" stroke-width="8.72"/>
<path d="M177.9,265.4L181.1,257.6" stroke-width="8.68"/>
<path d="M187.3,239.5L191.1,231.9" stroke-width="8.62"/>
<path d="M204.4,212.3L209.2,205.3" stroke-width="8.52"/>
<path d="M225.0,185.5L230.8,179.3" stroke-width="8.35"/>
<path d="M251.5,162.8L258.7,158.2" stroke-width="8.05"/>
<path d="M280.0,147.5L288.2,145.3" stroke-width="7.60"/>
<path d="M1291.9,141.0L1300.1,143.6" stroke-width="7.68"/>
<path d="M1311.4,161.8L1314.2,169.8" stroke-width="8.71"/>
<path d="M1319.6,188.6L1321.6,196.8" stroke-width="8.76"/>
<path d="M1324.4,214.2L1325.8,222.6" stroke-width="8.78"/>
<path d="M1329.0,239.9L1330.2,248.3" stroke-width="8.79"/>
<path d="M1332.4,265.7L1333.4,274.1" stroke-width="8.79"/>
<path d="M1334.8,291.4L1335.6,299.8" stroke-width="8.79"/>
<path d="M1337.1,318.2L1337.7,326.6" stroke-width="8.80"/>
<path d="M1338.3,344.0L1338.7,352.4" stroke-width="8.80"/>
<path d="M1339.4,369.7L1339.8,378.1" stroke-width="8.80"/>
<path d="M1339.5,394.3L1339.7,402.7" stroke-width="8.80"/>
<path d="M1340.8,422.7L1340.8,441.3" stroke-width="8.80"/>
<path d="M1340.1,457.1L1340.1,465.5" stroke-width="8.80"/>
<path d="M1339.3,482.9L1339.1,491.3" stroke-width="8.80"/>
<path d="M1338.7,508.6L1338.3,517.0" stroke-width="8.80"/>
<path d="M1337.6,535.4L1337.2,543.8" stroke-width="8.80"/>
<path d="M1336.6,561.2L1336.0,569.6" stroke-width="8.80"/>
<path d="M1334.5,586.9L1333.7,595.3" stroke-width="8.79"/>
<path d="M1331.6,611.5L1330.6,619.9" stroke-width="8.79"/>
<path d="M1327.9,638.4L1326.7,646.8" stroke-width="8.78"/>
<path d="M1324.3,663.0L1322.7,671.4" stroke-width="8.77"/>
<path d="M1318.8,688.8L1316.6,697.0" stroke-width="8.75"/>
<path d="M1310.1,716.0L1306.5,723.6" stroke-width="8.64"/>
<path d="M1288.8,734.1L1283.0,727.9" stroke-width="8.37"/>
<path d="M1273.3,708.2L1270.9,700.0" stroke-width="8.73"/>
<path d="M1266.3,682.6L1264.5,674.2" stroke-width="8.77"/>
<path d="M1261.6,656.8L1260.2,648.4" stroke-width="8.78"/>
<path d="M1257.4,631.1L1256.4,622.7" stroke-width="8.79"/>
<path d="M1253.9,606.5L1253.1,598.1" stroke-width="8.79"/>
<path d="M1251.6,579.6L1251.0,571.2" stroke-width="8.79"/>
<path d="M1250.0,555.0L1249.4,546.6" stroke-width="8.80"/>
<path d="M1248.5,528.2L1248.1,519.8" stroke-width="8.80"/>
<path d="M1247.6,502.4L1247.4,494.0" stroke-width="8.80"/>
<path d="M1246.9,476.7L1246.7,468.3" stroke-width="8.80"/>
<path d="M1246.5,450.2L1246.5,441.8" stroke-width="8.80"/>
<path d="M1247.5,422.9L1247.5,414.5" stroke-width="8.80"/>
<path d="M1247.4,397.1L1247.6,388.7" stroke-width="8.80"/>
<path d="M1247.7,371.4L1248.1,363.0" stroke-width="8.80"/>
<path d="M1248.8,345.7L1249.2,337.3" stroke-width="8.80"/>
<path d="M1249.8,321.0L1250.4,312.6" stroke-width="8.80"/>
<path d="M1252.0,295.3L1252.8,286.9" stroke-width="8.79"/>
<path d="M1254.1,270.7L1255.1,262.3" stroke-width="8.79"/>
<path d="M1257.4,246.1L1258.6,237.7" stroke-width="8.78"/>
<path d="M1261.6,217.0L1263.2,208.6" stroke-width="8.77"/>
<path d="M1267.0,192.3L1269.0,184.1" stroke-width="8.75"/>
<path d="M1274.3,165.3L1277.5,157.3" stroke-width="8.69"/>
</g>
<g filter="url(#bt)">
<g fill="#4a4a4a" stroke="#4a4a4a" stroke-width="1.0" font-size="54" text-anchor="middle">
<text transform="translate(240.35,1300) scale(0.987,1)">3500</text><text transform="translate(540.15,1300) scale(0.977,1)">3000</text><text transform="translate(840.3,1300) scale(0.984,1)">2500</text><text transform="translate(1138.7,1300) scale(0.964,1)">2000</text><text transform="translate(1439.25,1300) scale(0.958,1)">1500</text><text transform="translate(1738.15,1300) scale(0.958,1)">1000</text>
</g>
<g fill="#333" stroke="#333" stroke-width="1">
<text transform="translate(731,1401) scale(1.0775,1)" font-size="60">Wavenumbers(cm</text>
<text x="1288" y="1401" font-size="60">)</text>
</g>
<text x="1244.5" y="1369" font-size="33" fill="#a4acb2" stroke="#a4acb2" stroke-width="1.2">−</text>
<text transform="translate(1267,1369) scale(0.85,1)" font-size="34" fill="#444" stroke="#444" stroke-width="0.8">1</text>
<text transform="translate(69,640.5) rotate(-90) scale(0.885,1)" font-size="65" fill="#333" stroke="#333" stroke-width="1" text-anchor="middle">Transmittance(%)</text>
<g fill="#333" stroke="#333" stroke-width="1.1" font-size="44">
<text transform="translate(1652,243) scale(1.05,1)">rPE</text>
<text transform="translate(1658,347.5) scale(1.05,1)">rPP</text>
<text transform="translate(1547.5,490) scale(1.05,1)">rPE:rPP=8:2</text>
<text transform="translate(1549.5,610) scale(1.05,1)">rPE:rPP=2:8</text>
</g>
</g>
</svg>
</body></html>
